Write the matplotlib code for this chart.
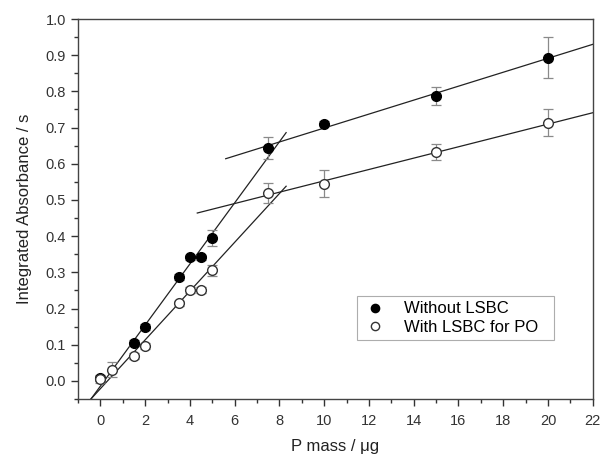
import matplotlib
matplotlib.use("Agg")
import matplotlib.pyplot as plt
import numpy as np
from matplotlib.ticker import MultipleLocator

plt.rcParams['font.family'] = ['Liberation Sans', 'DejaVu Sans']

x_filled = [0, 1.5, 2, 3.5, 4, 4.5, 5, 7.5, 10, 15, 20]
y_filled = [0.009, 0.105, 0.148, 0.288, 0.341, 0.341, 0.395, 0.644, 0.711, 0.787, 0.893]
e_filled = [0.008, 0.008, 0.008, 0.008, 0.008, 0.008, 0.023, 0.030, 0.008, 0.026, 0.057]

x_open = [0, 0.5, 1.5, 2, 3.5, 4, 4.5, 5, 7.5, 10, 15, 20]
y_open = [0.004, 0.031, 0.069, 0.096, 0.214, 0.251, 0.251, 0.306, 0.520, 0.545, 0.633, 0.714]
e_open = [0.010, 0.020, 0.008, 0.008, 0.008, 0.008, 0.008, 0.015, 0.028, 0.037, 0.022, 0.037]

# fitted lines: (slope, intercept, x_start, x_end)
fit_filled_low = (0.0844, -0.0145, -1.0, 8.3)
fit_filled_high = (0.01927, 0.506, 5.6, 22.0)
fit_open_low = (0.0674, -0.0215, -1.0, 8.3)
fit_open_high = (0.01568, 0.396, 4.33, 22.0)

fig = plt.figure(figsize=(6.02, 4.57), dpi=100)
ax = fig.add_axes([78/602, 1-399/457, (592.7-78)/602, (399-19)/457])

for s, b, x0, x1 in [fit_filled_low, fit_filled_high, fit_open_low, fit_open_high]:
    xs = np.array([x0, x1])
    ax.plot(xs, s*xs + b, color='#222222', lw=0.9, zorder=2)

ax.errorbar(x_filled, y_filled, yerr=e_filled, fmt='none', ecolor='#8a8a8a',
            elinewidth=0.9, capsize=3.5, capthick=0.9, zorder=3)
ax.errorbar(x_open, y_open, yerr=e_open, fmt='none', ecolor='#8a8a8a',
            elinewidth=0.9, capsize=3.5, capthick=0.9, zorder=3)

ax.plot(x_filled, y_filled, 'o', color='black', markersize=7, zorder=4,
        label='Without LSBC', linestyle='none')
ax.plot(x_open, y_open, 'o', markerfacecolor='white', markeredgecolor='#333333',
        markeredgewidth=1.0, markersize=7, zorder=4, label='With LSBC for PO',
        linestyle='none')

ax.set_xlim(-1, 22)
ax.set_ylim(-0.05, 1.0)
ax.xaxis.set_major_locator(MultipleLocator(2))
ax.xaxis.set_minor_locator(MultipleLocator(1))
ax.yaxis.set_major_locator(MultipleLocator(0.1))
ax.yaxis.set_minor_locator(MultipleLocator(0.05))
ax.yaxis.set_major_formatter(matplotlib.ticker.FormatStrFormatter('%.1f'))

ax.tick_params(which='major', direction='out', length=5, width=1.0, color='#333333',
               labelsize=10.5, labelcolor='#333333')
ax.tick_params(axis='x', which='major', pad=6)
ax.tick_params(which='minor', direction='out', length=3, width=1.0, color='#333333')
for sp in ax.spines.values():
    sp.set_color('#444444')
    sp.set_linewidth(1.0)

ax.set_xlabel('P mass / \u03bcg', fontsize=12, color='#222222')
ax.xaxis.set_label_coords(0.5, -0.105)
ax.set_ylabel('Integrated Absorbance / s', fontsize=12, color='#222222', labelpad=10)

leg = ax.legend(loc='lower left', bbox_to_anchor=((349-78)/514.7, (399-348)/380,
                (562-349)/514.7, (348-299)/380), mode='expand',
                fontsize=12, frameon=True, fancybox=False, markerscale=0.85,
                handlelength=1.5, handletextpad=1.0, borderpad=0.3, labelspacing=0.2)
leg.get_frame().set_edgecolor('#999999')
leg.get_frame().set_linewidth(0.8)

fig.savefig('out.png', dpi=100)
